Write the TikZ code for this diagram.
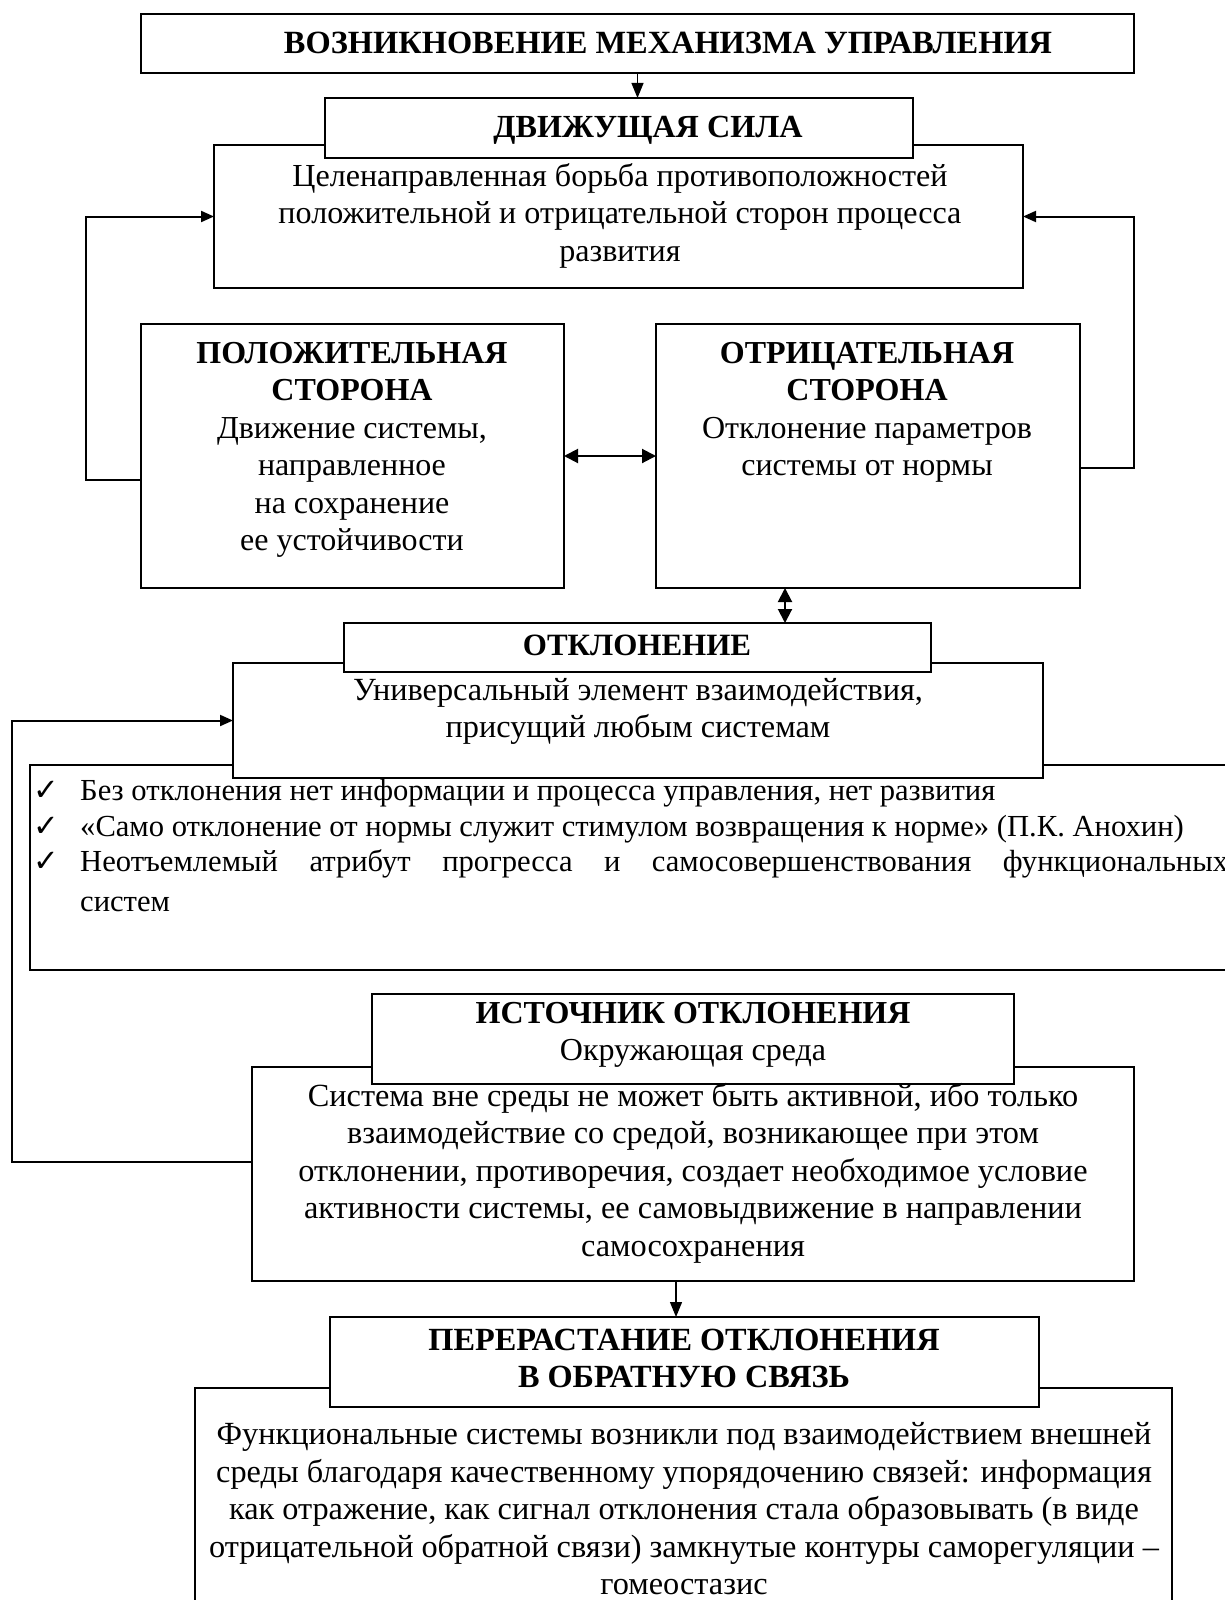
\documentclass[tikz,border=0pt]{standalone}
\usepackage{fontspec}
\setmainfont{Liberation Serif}
\newfontfamily\symfont{DejaVu Sans}
\usetikzlibrary{arrows.meta}
\newcommand\mkbox[5]{\node[bx,anchor=north west,minimum width={#4-#2},minimum height={#5-#3}] (#1) at (#2,#3) {};}
\tikzset{
  bx/.style={draw,line width=2pt,fill=white,inner sep=0pt,outer sep=0pt},
  txt/.style={inner sep=0pt,align=center,font=\fontsize{#1}{37.5}\selectfont},
  btxt/.style={inner sep=0pt,align=center,font=\fontsize{#1}{37.5}\selectfont\bfseries},
  conn/.style={line width=2pt,-{Triangle[length=13pt,width=11pt]}},
  thinarr/.style={line width=1.2pt,-{Triangle[length=15pt,width=12pt]}},
  dblarr/.style={line width=2pt,{Triangle[length=14pt,width=14pt]}-{Triangle[length=14pt,width=14pt]}}
}
\begin{document}
\begin{tikzpicture}[x=1pt,y=-1pt]
\useasboundingbox (0,0) rectangle (1225,1600);
\clip (0,0) rectangle (1225,1600);
\fill[white] (0,0) rectangle (1225,1600);
% boxes
\mkbox{title}{141}{14}{1134}{73}
\mkbox{dvbig}{214}{145}{1023}{288}
\mkbox{dvhead}{325}{98}{913}{158}
\mkbox{pos}{141}{324}{564}{588}
\mkbox{neg}{656}{324}{1080}{588}
\mkbox{bul}{30}{765}{1260}{970}
\mkbox{otbig}{233}{663}{1043}{778}
\mkbox{othead}{344}{623}{931}{672}
\mkbox{sys}{252}{1067}{1134}{1281}
\mkbox{ishead}{372}{994}{1014}{1084}
\mkbox{perbig}{195}{1388}{1172}{1630}
\mkbox{perhead}{330}{1317}{1039}{1407}
% texts
\node[btxt=32.4] (t1) at (668,43) {ВОЗНИКНОВЕНИЕ МЕХАНИЗМА УПРАВЛЕНИЯ};
\node[btxt=32.2] (t2) at (648,130) {ДВИЖУЩАЯ СИЛА};
\node[txt=32.1] (t3) at (620,215.5) {Целенаправленная борьба противоположностей\\положительной и отрицательной сторон процесса\\развития};
\node[txt=32] (t4) at (352,450) {\textbf{ПОЛОЖИТЕЛЬНАЯ}\\\textbf{СТОРОНА}\\Движение системы,\\направленное\\на сохранение\\ее устойчивости};
\node[txt=32] (t5) at (867,412.5) {\textbf{ОТРИЦАТЕЛЬНАЯ}\\\textbf{СТОРОНА}\\Отклонение параметров\\системы от нормы};
\node[btxt=31] (t6) at (637,645) {ОТКЛОНЕНИЕ};
\node[txt=32.3] (t7) at (638,711.5) {Универсальный элемент взаимодействия,\\присущий любым системам};
\node[txt=30.6,anchor=base west] (c1) at (33,800) {\symfont ✓};
\node[txt=30.6,anchor=base west] (c2) at (33,836) {\symfont ✓};
\node[txt=30.6,anchor=base west] (c3) at (33,871) {\symfont ✓};
\node[txt=30.6,anchor=base west] (b1) at (80,800) {Без отклонения нет информации и процесса управления, нет развития};
\node[txt=30.6,anchor=base west] (b2) at (80,836) {«Само отклонение от нормы служит стимулом возвращения к норме» (П.К. Анохин)};
\node[txt=30.6,anchor=base west] (b3) at (80,871) {\hbox to 1148pt{Неотъемлемый\hfill атрибут\hfill прогресса\hfill и\hfill самосовершенствования\hfill функциональных}};
\node[txt=30.6,anchor=base west] (b4) at (80,911) {систем};
\node[txt=32] (t8) at (693,1035) {\textbf{ИСТОЧНИК ОТКЛОНЕНИЯ}\\Окружающая среда};
\node[txt=32.3] (t9) at (693,1173) {Система вне среды не может быть активной, ибо только\\взаимодействие со средой, возникающее при этом\\отклонении, противоречия, создает необходимое условие\\активности системы, ее самовыдвижение в направлении\\самосохранения};
\node[btxt=32.3] (t10) at (684,1358.5) {ПЕРЕРАСТАНИЕ ОТКЛОНЕНИЯ\\В ОБРАТНУЮ СВЯЗЬ};
\node[txt=32.3] (t11) at (684,1509) {Функциональные системы возникли под взаимодействием внешней\\среды благодаря качественному упорядочению связей: информация\\как отражение, как сигнал отклонения стала образовывать (в виде\\отрицательной обратной связи) замкнутые контуры саморегуляции –\\гомеостазис};
% connectors
\draw[thinarr] (title.south) -- (title.south |- dvhead.north);
\draw[conn] ([yshift=-24pt]pos.west) -- ++(-55,0) |- (dvbig.west);
\draw[conn] ([yshift=-12pt]neg.east) -- ++(54,0) |- (dvbig.east);
\draw[dblarr] (pos.east) -- (neg.west);
\draw[dblarr] ([xshift=-83pt]neg.south) -- ([xshift=-83pt]neg.south |- othead.north);
\draw[conn] ([yshift=12pt]sys.west) -- ++(-240,0) |- (otbig.west);
\draw[thinarr] ([xshift=-17pt]sys.south) -- ([xshift=-17pt]sys.south |- perhead.north);
\end{tikzpicture}
\end{document}
